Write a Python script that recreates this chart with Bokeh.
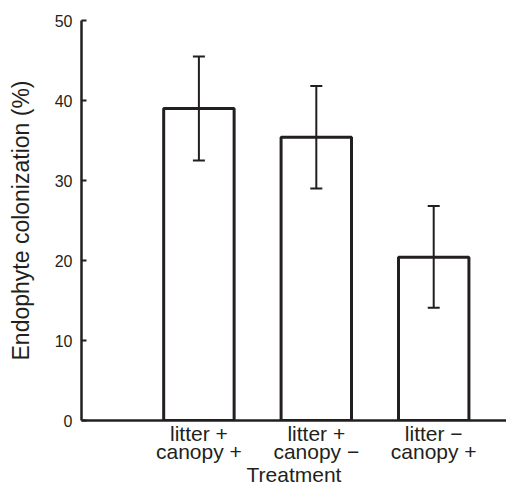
from bokeh.plotting import figure
from bokeh.models import (ColumnDataSource, Range1d, FixedTicker, Whisker, TeeHead, LinearAxis)
from bokeh.embed import file_html
from bokeh.resources import INLINE

# ---- data ----
positions = [1, 2, 3]
line1 = ["litter +", "litter +", "litter \u2212"]
line2 = ["canopy +", "canopy \u2212", "canopy +"]
means = [39.0, 35.4, 20.4]
err_upper = [45.5, 41.8, 26.8]
err_lower = [32.5, 29.0, 14.1]
y_ticks = [0, 10, 20, 30, 40, 50]
x_title = "Treatment"
y_title = "Endophyte colonization (%)"

INK = "#231f20"
FONT = "Liberation Sans"

src = ColumnDataSource(dict(x=positions, top=means, upper=err_upper, lower=err_lower))

p = figure(width=506, height=488, output_backend="svg", toolbar_location=None,
           x_range=Range1d(0, 3.62), y_range=Range1d(0, 50),
           min_border_left=81, min_border_right=0, min_border_top=20, min_border_bottom=10)
p.outline_line_color = None
p.grid.visible = False
p.background_fill_color = "white"
p.border_fill_color = "white"

p.vbar(x="x", top="top", bottom=0, width=0.6, source=src, fill_color="white",
       line_color=INK, line_width=3)

w = Whisker(base="x", upper="upper", lower="lower", source=src,
            line_color=INK, line_width=2, level="overlay",
            upper_head=TeeHead(size=12, line_color=INK, line_width=2),
            lower_head=TeeHead(size=12, line_color=INK, line_width=2))
p.add_layout(w)

# y axis
p.yaxis.ticker = FixedTicker(ticks=y_ticks)
p.yaxis.minor_tick_line_color = None
p.yaxis.major_tick_in = 5
p.yaxis.major_tick_out = 0
p.yaxis.major_tick_line_width = 2
p.yaxis.major_tick_line_color = INK
p.yaxis.axis_line_width = 2.5
p.yaxis.axis_line_color = INK
p.yaxis.major_label_text_font = FONT
p.yaxis.major_label_text_font_size = "16px"
p.yaxis.major_label_text_color = INK
p.yaxis.major_label_standoff = 9
p.yaxis.axis_label = y_title
p.yaxis.axis_label_text_font = FONT
p.yaxis.axis_label_text_font_size = "23px"
p.yaxis.axis_label_text_font_style = "normal"
p.yaxis.axis_label_text_color = INK
p.yaxis.axis_label_standoff = 18

# x axis, first label line
ax1 = p.xaxis[0]
ax1.ticker = FixedTicker(ticks=positions)
ax1.major_label_overrides = {xp: t for xp, t in zip(positions, line1)}
ax1.minor_tick_line_color = None
ax1.major_tick_line_color = None
ax1.major_tick_in = 0
ax1.major_tick_out = 0
ax1.axis_line_width = 2.5
ax1.axis_line_color = INK
ax1.major_label_standoff = 1
ax1.major_label_text_font = FONT
ax1.major_label_text_font_size = "21px"
ax1.major_label_text_color = INK

# second label line plus title
ax2 = LinearAxis(ticker=FixedTicker(ticks=positions),
                 major_label_overrides={xp: t for xp, t in zip(positions, line2)})
ax2.axis_line_color = None
ax2.minor_tick_line_color = None
ax2.major_tick_line_color = None
ax2.major_tick_in = 0
ax2.major_tick_out = 0
ax2.major_label_standoff = -8
ax2.major_label_text_font = FONT
ax2.major_label_text_font_size = "21px"
ax2.major_label_text_color = INK
ax2.axis_label = x_title
ax2.axis_label_standoff = -3
ax2.axis_label_text_font = FONT
ax2.axis_label_text_font_size = "21px"
ax2.axis_label_text_font_style = "normal"
ax2.axis_label_text_color = INK
p.add_layout(ax2, "below")

open("out.html", "w").write(file_html(p, INLINE))
